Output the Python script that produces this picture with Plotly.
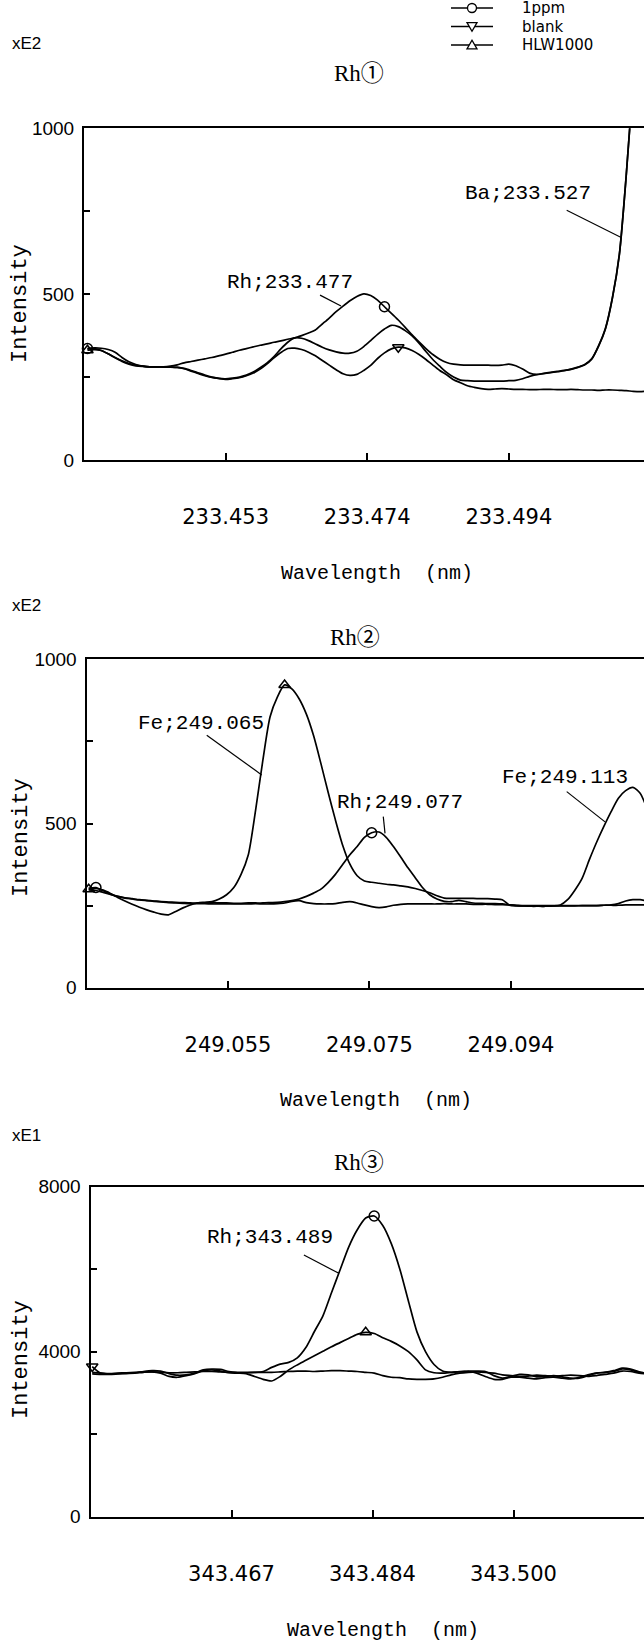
import plotly.graph_objects as go

W, H = 644, 1645

# ---------------- Panel 1 : Rh(1) ----------------
wl1 = [233.433, 233.434, 233.435, 233.436, 233.437, 233.438, 233.439, 233.440, 233.441, 233.442,
       233.443, 233.444, 233.445, 233.446, 233.447, 233.448, 233.449, 233.450, 233.451, 233.452,
       233.453, 233.454, 233.455, 233.456, 233.457, 233.458, 233.459, 233.460, 233.461, 233.462,
       233.463, 233.464, 233.465, 233.466, 233.467, 233.468, 233.469, 233.470, 233.471, 233.472,
       233.473, 233.474, 233.475, 233.476, 233.477, 233.478, 233.479, 233.480, 233.481, 233.482,
       233.483, 233.484, 233.485, 233.486, 233.487, 233.488, 233.489, 233.490, 233.491, 233.492,
       233.493, 233.494, 233.495, 233.496, 233.497, 233.498, 233.499, 233.500, 233.501, 233.502,
       233.503, 233.504, 233.505, 233.506, 233.507, 233.508, 233.509, 233.510, 233.511, 233.512,
       233.513, 233.514]
ppm1 = [336, 338, 337, 333, 325, 309, 296, 288, 283, 281, 281, 281, 283, 287, 293, 297, 301, 305, 309, 314,
        319, 325, 331, 336, 341, 346, 350, 355, 359, 364, 368, 375, 383, 392, 410, 428, 447, 464, 480, 493,
        501, 496, 482, 462, 442, 422, 400, 377, 356, 336, 318, 304, 294, 289, 287, 286, 286, 286, 286, 285,
        286, 289, 284, 274, 262, 258, 261, 264, 267, 270, 274, 280, 288, 305, 345, 398, 490, 620, 860, 1150,
        1500, 1900]
hlw1 = [331, 333, 330, 320, 308, 297, 289, 284, 282, 281, 281, 281, 280, 279, 275, 268, 261, 254, 249, 246,
        245, 247, 250, 256, 265, 278, 293, 312, 335, 355, 368, 367, 360, 350, 340, 332, 326, 322, 322, 328,
        342, 360, 379, 395, 406, 402, 390, 374, 352, 327, 303, 283, 264, 250, 241, 239, 238, 238, 238, 238,
        238, 239, 240, 245, 252, 257, 260, 263, 266, 269, 273, 279, 287, 304, 343, 396, 488, 618, 858, 1150,
        1500, 1900]
blank1 = [336, 336, 330, 320, 309, 299, 291, 286, 283, 281, 281, 280, 280, 279, 276, 270, 263, 256, 250, 246,
          243, 245, 248, 254, 262, 274, 290, 308, 324, 336, 337, 333, 325, 314, 300, 286, 272, 260, 255, 258,
          270, 285, 306, 323, 335, 340, 338, 330, 318, 303, 286, 270, 257, 242, 233, 224, 219, 215, 213, 214,
          215, 214, 213, 213, 212, 212, 213, 213, 212, 212, 213, 212, 211, 211, 210, 211, 211, 210, 209, 207,
          206, 208]
ticks1 = [233.4530, 233.4735, 233.4940]
ticktext1 = ["233.453", "233.474", "233.494"]
ppm1_marks, hlw1_marks, blank1_marks = [0, 43], [0], [45]

# ---------------- Panel 2 : Rh(2) ----------------
wl2 = [249.036, 249.037, 249.038, 249.039, 249.040, 249.041, 249.042, 249.043, 249.044, 249.045,
       249.046, 249.047, 249.048, 249.049, 249.050, 249.051, 249.052, 249.053, 249.054, 249.055,
       249.056, 249.057, 249.058, 249.059, 249.060, 249.061, 249.062, 249.063, 249.064, 249.065,
       249.066, 249.067, 249.068, 249.069, 249.070, 249.071, 249.072, 249.073, 249.074, 249.075,
       249.076, 249.077, 249.078, 249.079, 249.080, 249.081, 249.082, 249.083, 249.084, 249.085,
       249.086, 249.087, 249.088, 249.089, 249.090, 249.091, 249.092, 249.093, 249.094, 249.095,
       249.096, 249.097, 249.098, 249.099, 249.100, 249.101, 249.102, 249.103, 249.104, 249.105,
       249.106, 249.107, 249.108, 249.109, 249.110, 249.111, 249.112, 249.113]
ppm2 = [303, 305, 295, 285, 278, 274, 271, 268, 266, 264, 262, 261, 260, 259, 258, 258, 258, 258, 258, 258,
        257, 257, 258, 258, 258, 259, 260, 262, 265, 270, 278, 288, 300, 320, 345, 375, 405, 430, 458, 472,
        474, 458, 430, 398, 365, 335, 305, 283, 270, 263, 262, 266, 262, 258, 257, 256, 256, 255, 252, 250,
        249, 249, 248, 248, 249, 249, 249, 249, 250, 250, 250, 251, 252, 256, 264, 268, 268, 264]
hlw2 = [300, 302, 297, 287, 275, 264, 254, 245, 237, 230, 224, 222, 232, 243, 252, 258, 260, 262, 270, 283,
        305, 345, 405, 540, 692, 825, 885, 922, 910, 880, 833, 767, 683, 595, 511, 434, 376, 341, 325, 321,
        318, 315, 313, 310, 307, 302, 296, 289, 280, 273, 272, 272, 272, 272, 271, 271, 270, 268, 251, 249,
        249, 248, 248, 248, 249, 252, 268, 297, 333, 390, 443, 491, 536, 577, 600, 610, 592, 542]
blank2 = [298, 296, 290, 284, 278, 273, 270, 267, 265, 263, 261, 259, 258, 257, 256, 256, 256, 255, 255, 255,
          255, 255, 255, 256, 255, 255, 256, 258, 263, 265, 259, 256, 255, 255, 256, 260, 262, 258, 252, 247,
          244, 246, 251, 254, 255, 255, 255, 255, 255, 256, 255, 255, 255, 254, 254, 254, 253, 253, 252, 251,
          250, 250, 250, 250, 250, 250, 250, 250, 250, 250, 250, 251, 251, 251, 252, 252, 252, 252]
ticks2 = [249.0552, 249.0747, 249.0942]
ticktext2 = ["249.055", "249.075", "249.094"]
ppm2_marks, hlw2_marks, blank2_marks = [1, 39], [0, 27], []

# ---------------- Panel 3 : Rh(3) ----------------
wl3 = [343.451, 343.452, 343.453, 343.454, 343.455, 343.456, 343.457, 343.458, 343.459, 343.460,
       343.461, 343.462, 343.463, 343.464, 343.465, 343.466, 343.467, 343.468, 343.469, 343.470,
       343.471, 343.472, 343.473, 343.474, 343.475, 343.476, 343.477, 343.478, 343.479, 343.480,
       343.481, 343.482, 343.483, 343.484, 343.485, 343.486, 343.487, 343.488, 343.489, 343.490,
       343.491, 343.492, 343.493, 343.494, 343.495, 343.496, 343.497, 343.498, 343.499, 343.500,
       343.501, 343.502, 343.503, 343.504, 343.505, 343.506, 343.507, 343.508, 343.509, 343.510,
       343.511, 343.512, 343.513, 343.514, 343.515, 343.516]
ppm3 = [3500, 3480, 3460, 3470, 3480, 3490, 3520, 3540, 3530, 3470, 3430, 3440, 3480, 3560, 3580, 3570,
        3520, 3500, 3500, 3500, 3520, 3620, 3700, 3740, 3850, 4100, 4490, 4870, 5430, 5980, 6530, 6950,
        7240, 7290, 7060, 6620, 6000, 5230, 4480, 4000, 3690, 3530, 3500, 3510, 3530, 3530, 3520, 3420,
        3360, 3400, 3450, 3440, 3390, 3400, 3420, 3390, 3360, 3360, 3420, 3480, 3500, 3520, 3580, 3560,
        3500, 3480]
hlw3 = [3460, 3450, 3450, 3460, 3470, 3480, 3500, 3510, 3480, 3400, 3380, 3420, 3470, 3540, 3560, 3530,
        3490, 3480, 3470, 3400, 3330, 3290, 3400, 3560, 3680, 3790, 3900, 4010, 4120, 4220, 4320, 4420,
        4470, 4440, 4340, 4250, 4140, 4000, 3800, 3560, 3490, 3480, 3500, 3520, 3520, 3480, 3400, 3330,
        3330, 3380, 3380, 3360, 3340, 3370, 3380, 3360, 3340, 3380, 3440, 3480, 3500, 3540, 3600, 3580,
        3510, 3470]
blank3 = [3640, 3480, 3470, 3480, 3490, 3500, 3510, 3510, 3500, 3490, 3490, 3500, 3510, 3520, 3520, 3510,
          3500, 3490, 3490, 3500, 3500, 3500, 3510, 3520, 3530, 3530, 3520, 3530, 3540, 3540, 3530, 3520,
          3500, 3480, 3420, 3380, 3370, 3340, 3330, 3330, 3340, 3380, 3440, 3480, 3500, 3510, 3500, 3480,
          3440, 3420, 3400, 3410, 3430, 3420, 3410, 3420, 3430, 3420, 3400, 3420, 3450, 3480, 3530, 3520,
          3480, 3460]
ticks3 = [343.4673, 343.4838, 343.5003]
ticktext3 = ["343.467", "343.484", "343.500"]
ppm3_marks, hlw3_marks, blank3_marks = [33], [32], [0]

series_names = ["1ppm", "blank", "HLW1000"]
symbols = {"1ppm": "circle-open", "blank": "triangle-down-open", "HLW1000": "triangle-up-open"}

# ---------------- figure ----------------
fig = go.Figure()

def px_x(v):
    return v / W

def px_y(v):
    return 1 - v / H

panels = [
    dict(ax="", wl=wl1, data={"1ppm": ppm1, "blank": blank1, "HLW1000": hlw1},
         marks={"1ppm": ppm1_marks, "blank": blank1_marks, "HLW1000": hlw1_marks}),
    dict(ax="2", wl=wl2, data={"1ppm": ppm2, "blank": blank2, "HLW1000": hlw2},
         marks={"1ppm": ppm2_marks, "blank": blank2_marks, "HLW1000": hlw2_marks}),
    dict(ax="3", wl=wl3, data={"1ppm": ppm3, "blank": blank3, "HLW1000": hlw3},
         marks={"1ppm": ppm3_marks, "blank": blank3_marks, "HLW1000": hlw3_marks}),
]

for p in panels:
    xa, ya = "x" + p["ax"], "y" + p["ax"]
    for name in series_names:
        vals = p["data"][name]
        fig.add_trace(go.Scatter(x=p["wl"], y=vals, mode="lines", xaxis=xa, yaxis=ya,
                                 line=dict(color="black", width=1.7, shape="spline", smoothing=0.7),
                                 showlegend=False, hoverinfo="skip"))
        idx = p["marks"][name]
        if idx:
            fig.add_trace(go.Scatter(x=[p["wl"][i] for i in idx], y=[vals[i] for i in idx],
                                     mode="markers", xaxis=xa, yaxis=ya, cliponaxis=False,
                                     marker=dict(symbol=symbols[name], size=10, color="black",
                                                 line=dict(width=1.5, color="black")),
                                     showlegend=False, hoverinfo="skip"))

xtickfont = dict(family="DejaVu Sans", size=21, color="black")
ytickfont = dict(family="Liberation Sans", size=19, color="black")

def xcfg(left_px, rng, tv, tt, anchor):
    return dict(domain=[left_px / W, 1], range=rng, tickmode="array", tickvals=tv, ticktext=tt,
                ticks="inside", ticklen=7, tickwidth=1.5, tickcolor="black",
                showline=True, linecolor="black", linewidth=2, mirror=True,
                showgrid=False, zeroline=False, anchor=anchor, tickfont=xtickfont,
                ticklabelstandoff=37, fixedrange=True, automargin=False)

def ycfg(bot_px, top_px, rng, tv, tt, anchor):
    return dict(domain=[px_y(bot_px), px_y(top_px)], range=rng, tickmode="array", tickvals=tv,
                ticktext=tt, ticks="inside", ticklen=6, tickwidth=1.5, tickcolor="black",
                showline=True, linecolor="black", linewidth=2, mirror=False,
                showgrid=False, zeroline=False, anchor=anchor, tickfont=ytickfont,
                ticklabelstandoff=4, fixedrange=True, automargin=False)

yt12 = [0, 250, 500, 750, 1000]
ytt12 = ["0", "", "500", "", "1000"]
yt3 = [0, 2000, 4000, 6000, 8000]
ytt3 = ["0", "", "4000", "", "8000"]

fig.update_layout(
    width=W, height=H, margin=dict(l=0, r=0, t=0, b=0, autoexpand=False),
    paper_bgcolor="white", plot_bgcolor="white", showlegend=False,
    xaxis=xcfg(84, [233.4325, 233.51357], ticks1, ticktext1, "y"),
    yaxis=ycfg(460, 128.3, [0, 1000], yt12, ytt12, "x"),
    xaxis2=xcfg(86.5, [249.0357, 249.11253], ticks2, ticktext2, "y2"),
    yaxis2=ycfg(987.7, 659.3, [0, 1000], yt12, ytt12, "x2"),
    xaxis3=xcfg(90.5, [343.4508, 343.51557], ticks3, ticktext3, "y3"),
    yaxis3=ycfg(1516.7, 1186.7, [0, 8000], yt3, ytt3, "x3"),
)

mono = "Liberation Mono"
ann = []
shapes = []

def paper_text(text, x, y, family, size, xanchor="center", angle=0):
    ann.append(dict(text=text, x=px_x(x), y=px_y(y), xref="paper", yref="paper", showarrow=False,
                    xanchor=xanchor, yanchor="middle", textangle=angle, borderpad=0,
                    font=dict(family=family, size=size, color="black")))

# legend drawn by hand (line sample + open marker + label)
legend_rows = [8, 26.5, 45]
lx0, lx1, ltxt = 451, 493, 521
r = 4.5
for name, yc in zip(series_names, legend_rows):
    shapes.append(dict(type="line", xref="paper", yref="paper", x0=px_x(lx0), x1=px_x(lx1),
                       y0=px_y(yc), y1=px_y(yc), line=dict(color="black", width=1.4)))
    cx = (lx0 + lx1) / 2
    if name == "1ppm":
        shapes.append(dict(type="circle", xref="paper", yref="paper", x0=px_x(cx - r), x1=px_x(cx + r),
                           y0=px_y(yc + r), y1=px_y(yc - r), fillcolor="white",
                           line=dict(color="black", width=1.3)))
    else:
        d = -1 if name == "blank" else 1
        pts = [(cx - r - 0.5, yc + d * r * 0.85), (cx + r + 0.5, yc + d * r * 0.85), (cx, yc - d * r * 1.05)]
        path = "M {} {} L {} {} L {} {} Z".format(*[v for pt in pts for v in (px_x(pt[0]), px_y(pt[1]))])
        shapes.append(dict(type="path", xref="paper", yref="paper", path=path, fillcolor="white",
                           line=dict(color="black", width=1.3)))
    paper_text(name, ltxt, yc, "DejaVu Sans", 15, xanchor="left")

# exponent notes, titles, axis titles
for txt, y in [("xE2", 44), ("xE2", 606), ("xE1", 1135)]:
    paper_text(txt, 11, y, "Liberation Sans", 17, xanchor="left")
for txt, y, x in [("Rh\u2460", 73, 359), ("Rh\u2461", 637, 355), ("Rh\u2462", 1162, 359)]:
    paper_text(txt, x, y, "Liberation Serif, Noto Sans CJK JP", 23)
for y in [304, 838, 1360]:
    paper_text("Intensity", 21, y, mono, 22, angle=-90)
for y, x in [(573, 377), (1100, 376), (1630, 383)]:
    paper_text("Wavelength\u00a0\u00a0(nm)", x, y, mono, 20)

# callout labels (data coordinates)
callouts = [
    ("Rh;233.477", "x", "y", 233.46232, 536),
    ("Ba;233.527", "x", "y", 233.49671, 803),
    ("Fe;249.065", "x2", "y2", 249.05148, 803),
    ("Rh;249.077", "x2", "y2", 249.07890, 564),
    ("Fe;249.113", "x2", "y2", 249.10164, 640),
    ("Rh;343.489", "x3", "y3", 343.47177, 6768),
]
for txt, xr, yr, xv, yv in callouts:
    ann.append(dict(text=txt, x=xv, y=yv, xref=xr, yref=yr, showarrow=False,
                    xanchor="center", yanchor="middle",
                    font=dict(family=mono, size=21, color="black")))

leaders = [
    ("x", "y", 233.46667, 497, 233.46971, 464),
    ("x", "y", 233.50238, 753, 233.51034, 670),
    ("x2", "y2", 249.05227, 769, 249.05984, 648),
    ("x2", "y2", 249.07660, 521, 249.07684, 470),
    ("x2", "y2", 249.10188, 597, 249.10716, 505),
    ("x3", "y3", 343.47577, 6344, 343.47986, 5900),
]
shapes += [dict(type="line", xref=xr, yref=yr, x0=a, y0=b, x1=c, y1=d,
                line=dict(color="black", width=1.2)) for xr, yr, a, b, c, d in leaders]

fig.update_layout(annotations=ann, shapes=shapes)

fig.write_html("out.html")
